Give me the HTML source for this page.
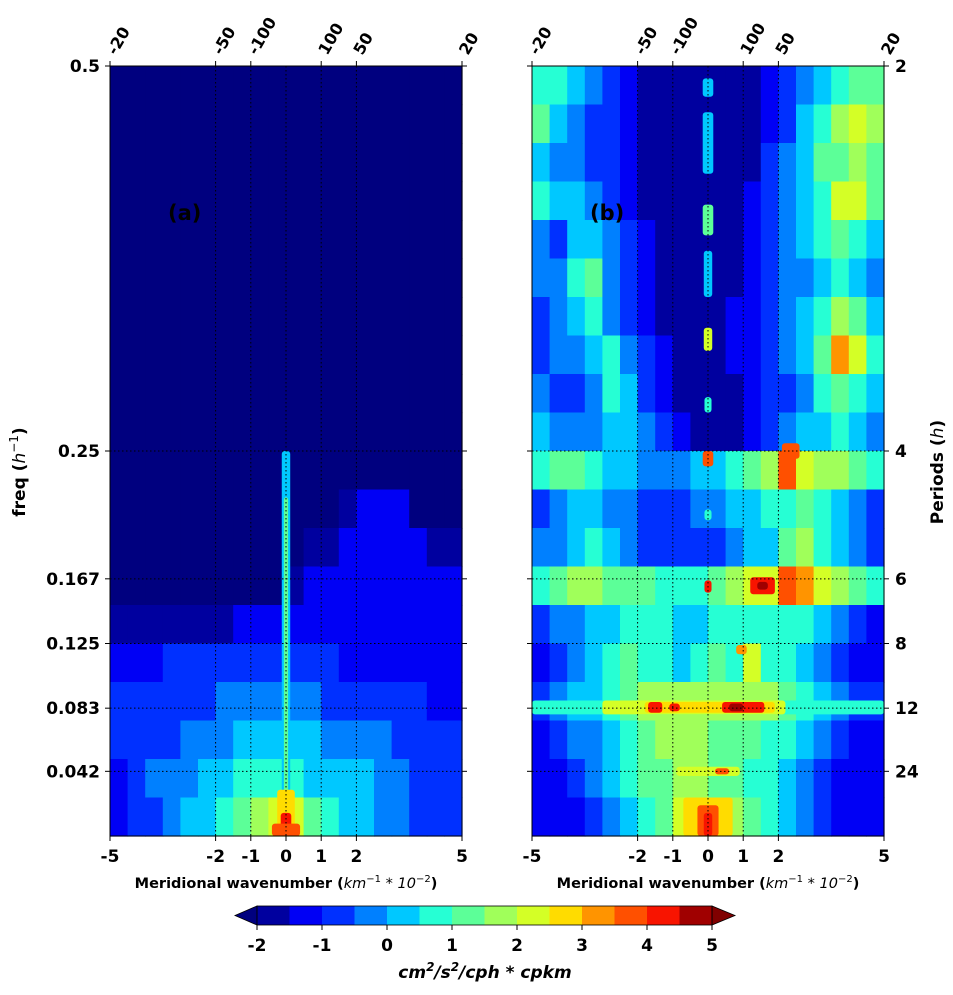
<!DOCTYPE html>
<html><head><meta charset="utf-8">
<style>
body{margin:0;background:#fff;width:953px;height:991px;overflow:hidden;font-family:"DejaVu Sans","Liberation Sans",sans-serif}
svg text{font-family:"DejaVu Sans","Liberation Sans",sans-serif;font-weight:bold;fill:#000}
</style></head><body>
<svg id="fig" width="953" height="991" xmlns="http://www.w3.org/2000/svg"></svg>
<script>
// ---- data ----
const levelColors=["#00009f","#0000f5","#0030ff","#0080ff","#00c8ff","#26ffd4","#5cff98","#a0ff5a","#d4ff26","#ffdc00","#ff9400","#ff5000","#f81400","#a00000"];
const underColor="#00007f", overColor="#800000";
const cbarTicks=[-2,-1,0,1,2,3,4,5];
const xTicks=[-5,-2,-1,0,1,2,5];
const topTickPos=[-5,-2,-1,1,2,5];
const topTickLabels=["-20","-50","-100","100","50","20"];
const freqTicks=[0.042,0.083,0.125,0.167,0.25,0.5];
const freqLabels=["0.042","0.083","0.125","0.167","0.25","0.5"];
const periodLabels=["24","12","8","6","4","2"];
// grid rows: top (f=0.5) to bottom (f=0), 20 cols from k=-5 to 5; '.' = below -2, 0-9,a-d level index
const gridA=[
"....................","....................","....................","....................",
"....................","....................","....................","....................",
"....................","....................","....................",".............0111...",
"...........001111100","..........0111111111","00000001111111111111","11122222222221111111",
"22222233333322222211","22223334444433332222","12333445555444433222","12234456788654433222"];
const gridB=[
"55432100000001234566","64322100000001245787","43322100000002346676","54432100000012345886",
"32443210000012345654","33563210000012334543","23453210000112345764","23345321000112346a85",
"32235421000012235654","43334432100012344543","56654433344567b87765","23443322233445565432",
"33454322222344675432","56776665556788ba8765","23344555445555554321","12345655456585543211",
"23445677777777654322","12334567776665543211","11234566776655432111","11123456899765432111"];
// spots: [k0,k1,f0,f1,level]
const spotsA=[[-0.12,0.12,0.0,0.25,4],[-0.06,0.06,0.0,0.22,6],[-0.25,0.25,0.0,0.03,9],[-0.15,0.15,0.0,0.015,12],[-0.4,0.4,0.0,0.008,11]];
const spotsB=[
[-0.15,0.15,0.48,0.492,4],[-0.15,0.15,0.43,0.47,4],[-0.15,0.15,0.39,0.41,6],[-0.12,0.12,0.35,0.38,4],
[-0.12,0.12,0.315,0.33,8],[-0.1,0.1,0.275,0.285,5],[-0.15,0.15,0.24,0.25,11],[-0.1,0.1,0.205,0.212,5],
[-0.1,0.1,0.158,0.166,12],[1.2,1.9,0.157,0.168,12],[1.4,1.7,0.16,0.165,13],
[-5,5,0.079,0.088,5],[-3,2.2,0.079,0.088,8],[-1.8,1.9,0.080,0.087,9],[-1.7,-1.3,0.080,0.087,12],[-1.1,-0.8,0.081,0.086,12],[0.4,1.6,0.080,0.087,12],[0.6,1.0,0.081,0.086,13],
[-0.9,0.9,0.039,0.045,8],[0.2,0.6,0.040,0.044,11],[2.1,2.6,0.245,0.255,11],[0.8,1.1,0.118,0.124,10],
[-0.7,0.7,0.0,0.025,9],[-0.3,0.3,0.0,0.02,11],[-0.12,0.12,0.0,0.015,12]];

const NS="http://www.w3.org/2000/svg";
const svg=document.getElementById('fig');
function el(tag,attrs,parent){const e=document.createElementNS(NS,tag);for(const k in attrs)e.setAttribute(k,attrs[k]);(parent||svg).appendChild(e);return e;}
function colorOf(ch){if(ch==='.')return underColor;return levelColors[parseInt(ch,16)];}
const PY0=66,PY1=836,PW=352;
function fy(f){return PY1-f/0.5*(PY1-PY0);}

function panel(x0,grid,spots,name,label,rightAxis){
  const g=el('g',{});
  
  
  const kx=k=>x0+(k+5)/10*PW;
  const rows=grid.length,cols=grid[0].length;
  grid.forEach((row,r)=>{
    for(let c=0;c<cols;c++){
      const k0=-5+10*c/cols,k1=-5+10*(c+1)/cols;
      const f1=0.5-0.5*r/rows,f0=0.5-0.5*(r+1)/rows;
      const rc=el('rect',{x:kx(k0),y:fy(f1),width:kx(k1)-kx(k0)+0.6,height:fy(f0)-fy(f1)+0.6,fill:colorOf(row[c])},g);
      
      
    }
  });
  spots.forEach(s=>{
    const rc=el('rect',{x:kx(s[0]),y:fy(s[3]),width:kx(s[1])-kx(s[0]),height:fy(s[2])-fy(s[3]),rx:3,fill:levelColors[s[4]]},g);
    
    
  });
  [-2,-1,0,1,2].forEach(k=>{const l=el('line',{x1:kx(k),x2:kx(k),y1:PY0,y2:PY1,stroke:'#000','stroke-width':1,'stroke-dasharray':'1.5,2.5'},g);
    });
  freqTicks.slice(0,5).forEach(f=>{const l=el('line',{x1:x0,x2:x0+PW,y1:fy(f),y2:fy(f),stroke:'#000','stroke-width':1,'stroke-dasharray':'1.5,2.5'},g);
    });
  const fr=el('rect',{x:x0,y:PY0,width:PW,height:PY1-PY0,fill:'none',stroke:'#000','stroke-width':1},g);
  
  xTicks.forEach(k=>{
    el('line',{x1:kx(k),x2:kx(k),y1:PY1,y2:PY1+5,stroke:'#000'},g);
    const t=el('text',{x:kx(k),y:862,'font-size':17,'text-anchor':'middle'},g);t.textContent=k;
    
  });
  topTickPos.forEach((k,i)=>{
    el('line',{x1:kx(k),x2:kx(k),y1:PY0,y2:PY0-5,stroke:'#000'},g);
    const t=el('text',{x:kx(k)+6,y:56,'font-size':16,transform:`rotate(-60 ${kx(k)+6} 56)`},g);t.textContent=topTickLabels[i];
    
  });
  freqTicks.forEach((f,i)=>{
    el('line',{x1:x0,x2:x0-5,y1:fy(f),y2:fy(f),stroke:'#000'},g);
    el('line',{x1:x0+PW,x2:x0+PW+5,y1:fy(f),y2:fy(f),stroke:'#000'},g);
    if(!rightAxis){const t=el('text',{x:x0-10,y:fy(f)+6,'font-size':17,'text-anchor':'end'},g);t.textContent=freqLabels[i];
      }
    else{const t=el('text',{x:x0+PW+11,y:fy(f)+6,'font-size':17},g);t.textContent=periodLabels[i];
      }
  });
  const pl=el('text',{x:x0+58,y:220,'font-size':21},g);pl.textContent=label;
  
  const xl=el('text',{x:x0+176,y:888,'font-size':14.5,'text-anchor':'middle'},g);
  xl.innerHTML='Meridional wavenumber (<tspan font-style="italic" font-weight="normal">km</tspan><tspan font-size="10" dy="-6" font-weight="normal">−1</tspan><tspan dy="6" font-weight="normal" font-style="italic"> * 10</tspan><tspan font-size="10" dy="-6" font-weight="normal">−2</tspan><tspan dy="6">)</tspan>';
  
}
panel(110,gridA,spotsA,'panel-a','(a)',false);
panel(532,gridB,spotsB,'panel-b','(b)',true);

const yl=el('text',{x:25,y:472,'font-size':17,'text-anchor':'middle',transform:'rotate(-90 25 472)'});
yl.innerHTML='freq (<tspan font-style="italic" font-weight="normal">h</tspan><tspan font-size="12" dy="-7" font-weight="normal">−1</tspan><tspan dy="7">)</tspan>';

const yr=el('text',{x:943,y:472,'font-size':17,'text-anchor':'middle',transform:'rotate(-90 943 472)'});
yr.innerHTML='Periods (<tspan font-style="italic" font-weight="normal">h</tspan>)';


const cb=el('g',{});


const CX0=257,CX1=712,CY0=906,CY1=925,bw=(CX1-CX0)/levelColors.length;
levelColors.forEach((c,i)=>{const r=el('rect',{x:CX0+i*bw,y:CY0,width:bw+0.5,height:CY1-CY0,fill:c},cb);
  });
el('polygon',{points:`${CX0},${CY0} ${CX0},${CY1} 235,${(CY0+CY1)/2}`,fill:underColor,stroke:'#000','stroke-width':0.8},cb);
el('polygon',{points:`${CX1},${CY0} ${CX1},${CY1} 735,${(CY0+CY1)/2}`,fill:overColor,stroke:'#000','stroke-width':0.8},cb);
el('rect',{x:CX0,y:CY0,width:CX1-CX0,height:CY1-CY0,fill:'none',stroke:'#000','stroke-width':0.8},cb);
cbarTicks.forEach(v=>{const x=CX0+(v+2)/7*(CX1-CX0);
  el('line',{x1:x,x2:x,y1:CY1,y2:CY1+5,stroke:'#000'},cb);
  const t=el('text',{x:x,y:951,'font-size':17,'text-anchor':'middle'},cb);t.textContent=v;
  });
const cl=el('text',{x:485,y:978,'font-size':17,'text-anchor':'middle','font-style':'italic','font-weight':'normal'});
cl.innerHTML='cm<tspan font-size="12" dy="-7">2</tspan><tspan dy="7">/s</tspan><tspan font-size="12" dy="-7">2</tspan><tspan dy="7">/cph * cpkm</tspan>';

</script>
</body></html>
